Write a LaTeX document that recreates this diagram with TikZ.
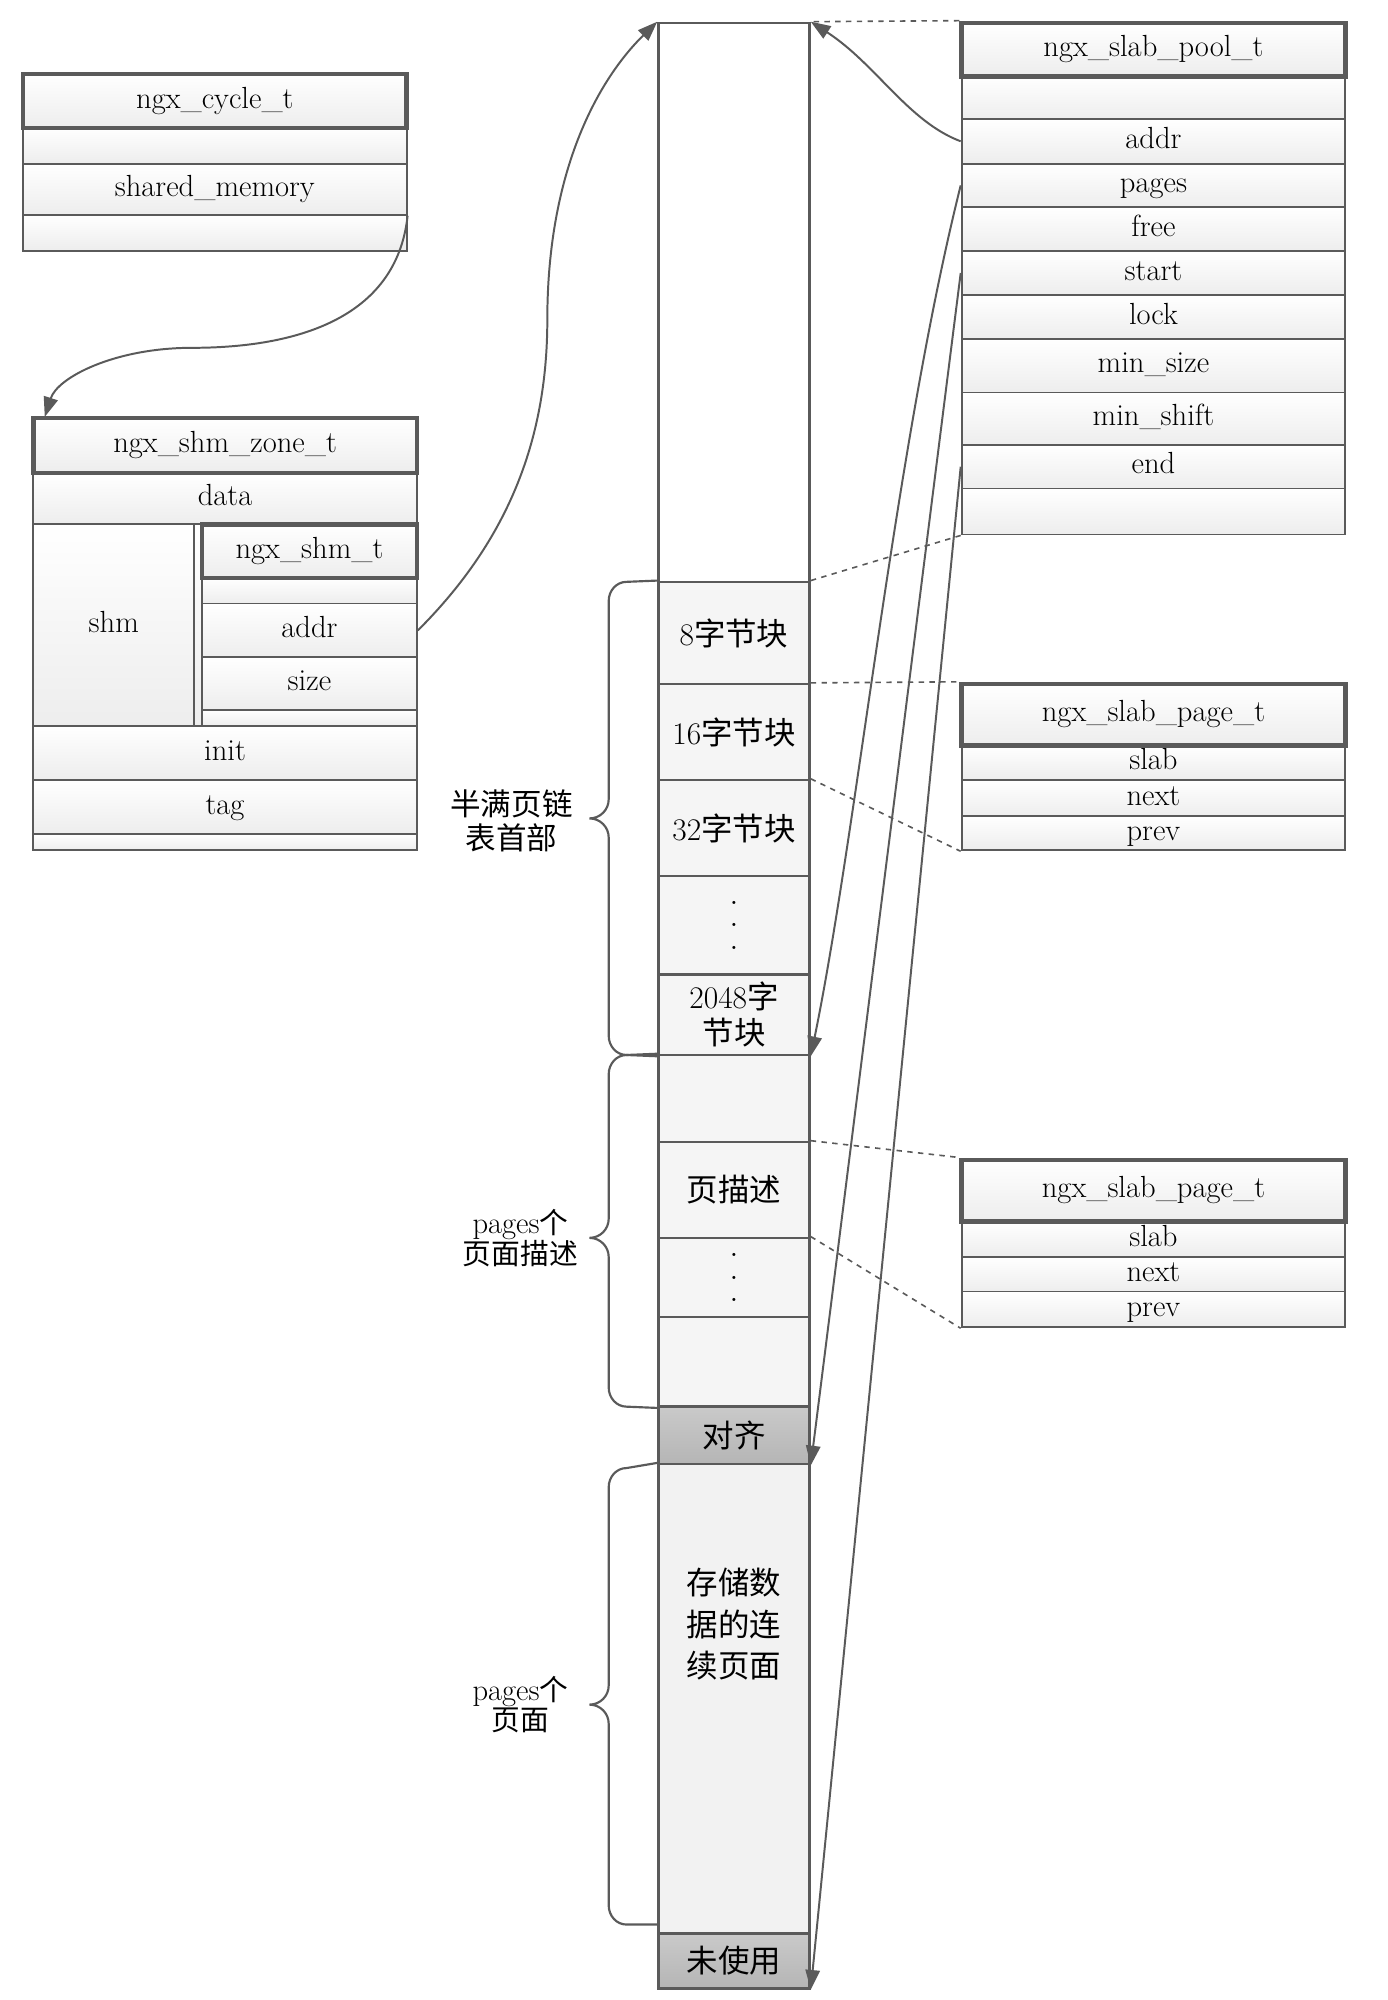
\documentclass[tikz,border=0pt]{standalone}
\usepackage{fontspec}
\newfontfamily\cjk{Noto Sans CJK SC}
\usetikzlibrary{arrows.meta}
\definecolor{linegray}{HTML}{5A5A5A}

\begin{document}
\begin{tikzpicture}[x=0.025cm,y=-0.025cm,
  field/.style={rectangle,draw=linegray,line width=1pt,top color=white,bottom color=gray!14,inner sep=0pt,text height=0.85em,text depth=0.06em,font=\fontsize{17}{20}\selectfont},
  headrow/.style={field,line width=2.6pt},
  cell/.style={rectangle,draw=linegray,line width=1.4pt,fill=gray!8,inner sep=0pt,minimum width=2.95cm,font=\cjk\fontsize{17.5}{21}\selectfont,align=center},
  darkcell/.style={cell,top color=gray!42,bottom color=gray!58},
  link/.style={draw=linegray,line width=1.1pt,-{Triangle[length=11pt,width=8pt]}},
  guide/.style={draw=linegray,line width=0.9pt,dashed},
  bracket/.style={draw=linegray,line width=1.2pt},
  sidenote/.style={font=\cjk\fontsize{16}{17}\selectfont,align=center,inner sep=0pt}]
   \useasboundingbox (0,0) rectangle (1085,1564);
   % ngx_cycle_t
   \begin{scope}[every node/.append style={minimum width=7.5cm}]
    \node[field,minimum height=0.7cm] (cycgap) at (168,114) {};
    \node[field,minimum height=1.0cm] (cycmem) at (168,148) {shared\_memory};
    \node[field,minimum height=0.7cm] (cycend) at (168,182) {};
    \node[headrow,minimum height=1.05cm] (cychead) at (168,79) {ngx\_cycle\_t};
   \end{scope}
   % ngx_shm_zone_t
   \begin{scope}[every node/.append style={minimum width=7.5cm}]
    \node[field,minimum height=1.0cm] (zonedata) at (176,390) {data};
    \node[field,minimum height=1.05cm] (zoneinit) at (176,589) {init};
    \node[field,minimum height=1.05cm] (zonetag) at (176,631) {tag};
    \node[field,minimum height=0.325cm] (zoneend) at (176,658.5) {};
    \node[headrow,minimum height=1.075cm] (zonehead) at (176,348.5) {ngx\_shm\_zone\_t};
   \end{scope}
   \node[field,minimum width=3.15cm,minimum height=3.95cm] (zoneshm) at (89,489) {shm};
   \node[field,minimum width=4.35cm,minimum height=3.95cm] (shmbox) at (239,489) {};
   % ngx_shm_t
   \begin{scope}[every node/.append style={minimum width=4.2cm}]
    \node[field,minimum height=0.5cm] (shmgap) at (242,462) {};
    \node[field,minimum height=1.05cm] (shmaddr) at (242,493) {addr};
    \node[field,minimum height=1.025cm] (shmsize) at (242,534.5) {size};
    \node[field,minimum height=0.325cm] (shmend) at (242,561.5) {};
    \node[headrow,minimum height=1.05cm] (shmhead) at (242,431) {ngx\_shm\_t};
   \end{scope}
   % ngx_slab_pool_t
   \begin{scope}[every node/.append style={minimum width=7.5cm}]
    \node[field,minimum height=0.825cm] (poolgap) at (902,76.5) {};
    \node[field,minimum height=0.875cm] (pooladdr) at (902,110.5) {addr};
    \node[field,minimum height=0.85cm] (poolpages) at (902,145) {pages};
    \node[field,minimum height=0.85cm] (poolfree) at (902,179) {free};
    \node[field,minimum height=0.875cm] (poolstart) at (902,213.5) {start};
    \node[field,minimum height=0.85cm] (poollock) at (902,248) {lock};
    \node[field,minimum height=1.05cm] (poolminsize) at (902,286) {min\_size};
    \node[field,minimum height=1.025cm] (poolminshift) at (902,327.5) {min\_shift};
    \node[field,minimum height=0.85cm] (poolend) at (902,365) {end};
    \node[field,minimum height=0.9cm] (poollast) at (902,400) {};
    \node[headrow,minimum height=1.05cm] (poolhead) at (902,39) {ngx\_slab\_pool\_t};
   \end{scope}
   % ngx_slab_page_t
   \begin{scope}[every node/.append style={minimum width=7.5cm}]
    \node[field,minimum height=0.675cm] (pageaslab) at (902,596.5) {slab};
    \node[field,minimum height=0.7cm] (pageanext) at (902,624) {next};
    \node[field,minimum height=0.675cm] (pageaprev) at (902,651.5) {prev};
    \node[headrow,minimum height=1.2cm] (pageahead) at (902,559) {ngx\_slab\_page\_t};
    \node[field,minimum height=0.7cm] (pagebslab) at (902,969) {slab};
    \node[field,minimum height=0.675cm] (pagebnext) at (902,996.5) {next};
    \node[field,minimum height=0.7cm] (pagebprev) at (902,1024) {prev};
    \node[headrow,minimum height=1.2cm] (pagebhead) at (902,931) {ngx\_slab\_page\_t};
   \end{scope}
   % shared memory column
   \node[cell,fill=white,minimum height=10.925cm] (coltop) at (574,236.5) {};
   \node[cell,minimum height=2.0cm] (blk8) at (574,495) {{\rmfamily 8}字节块};
   \node[cell,minimum height=1.875cm] (blk16) at (574,572.5) {{\rmfamily 16}字节块};
   \node[cell,minimum height=1.875cm] (blk32) at (574,647.5) {{\rmfamily 32}字节块};
   \node[cell,minimum height=1.925cm,font=\bfseries\fontsize{12}{12.5}\selectfont] (blkdots) at (574,723.5) {.\\.\\.};
   \node[cell,minimum height=1.575cm,font=\cjk\fontsize{17.5}{20}\selectfont] (blk2048) at (574,793.5) {{\rmfamily 2048}字\\节块};
   \node[cell,minimum height=1.7cm] (descgap) at (574,859) {};
   \node[cell,minimum height=1.875cm] (desc) at (574,930.5) {页描述};
   \node[cell,minimum height=1.55cm,font=\bfseries\fontsize{12}{12.5}\selectfont] (descdots) at (574,999) {.\\.\\.};
   \node[cell,minimum height=1.75cm] (descend) at (574,1065) {};
   \node[darkcell,minimum height=1.125cm] (align) at (574,1122.5) {对齐};
   \node[cell,fill=gray!10,minimum height=9.175cm] (store) at (574,1328.5) {};
   \node[darkcell,minimum height=1.075cm] (unused) at (574,1533.5) {未使用};
   \node[cell,draw=none,fill=none,font=\cjk\fontsize{17.5}{23}\selectfont] (storetext) at (574,1270) {存储数\\据的连\\续页面};
   % side notes
   \node[sidenote,font=\cjk\fontsize{17}{19}\selectfont] (notehead) at (400,642) {半满页链\\表首部};
   \node[sidenote] (notedesc) at (407,968) {{\rmfamily\fontsize{17}{17}\selectfont pages}个\\页面描述};
   \node[sidenote] (notepage) at (407,1333) {{\rmfamily\fontsize{17}{17}\selectfont pages}个\\页面};
   \coordinate (zonein) at (35,326);
   \begin{scope}[every path/.style={bracket}]
    \draw (blk8.north west) -- (490,455) to[out=180,in=90] (476,470) -- (476,625) to[out=-90,in=0] (461,640) to[out=0,in=90] (476,655) -- (476,810) to[out=-90,in=180] (490,825) -- (blk2048.south west);
    \draw (descgap.north west) -- (490,825) to[out=180,in=90] (476,840) -- (476,953) to[out=-90,in=0] (461,968) to[out=0,in=90] (476,983) -- (476,1085) to[out=-90,in=180] (490,1100) -- (descend.south west);
    \draw (store.north west) -- (490,1148) to[out=180,in=90] (476,1163) -- (476,1318) to[out=-90,in=0] (461,1333) to[out=0,in=90] (476,1348) -- (476,1490) to[out=-90,in=180] (490,1505) -- (515,1505);
   \end{scope}
   % dashed guides
   \draw[guide] (poolhead.north west) -- (coltop.north east);
   \draw[guide] (poollast.south west) -- (blk8.north east);
   \draw[guide] (blk16.north east) -- (pageahead.north west);
   \draw[guide] (blk32.north east) -- (pageaprev.south west);
   \draw[guide] (desc.north east) -- (pagebhead.north west);
   \draw[guide] (descdots.north east) -- (pagebprev.south west);
   % pointers
   \draw[link] (cycmem.south east) .. controls (310,250) and (230,272) .. (150,272) .. controls (90,272) and (45,295) .. (zonein);
   \draw[link] (shmaddr.east) .. controls (400,420) and (428,340) .. (428,250) .. controls (428,130) and (470,60) .. (coltop.north west);
   \draw[link] (pooladdr.west) .. controls (710,95) and (685,50) .. (coltop.north east);
   \draw[link] (poolpages.west) .. controls (700,350) and (670,650) .. (blk2048.south east);
   \draw[link] (poolstart.west) .. controls (715,500) and (665,900) .. (align.south east);
   \draw[link] (poolend.west) -- (unused.south east);
\end{tikzpicture}
\end{document}
